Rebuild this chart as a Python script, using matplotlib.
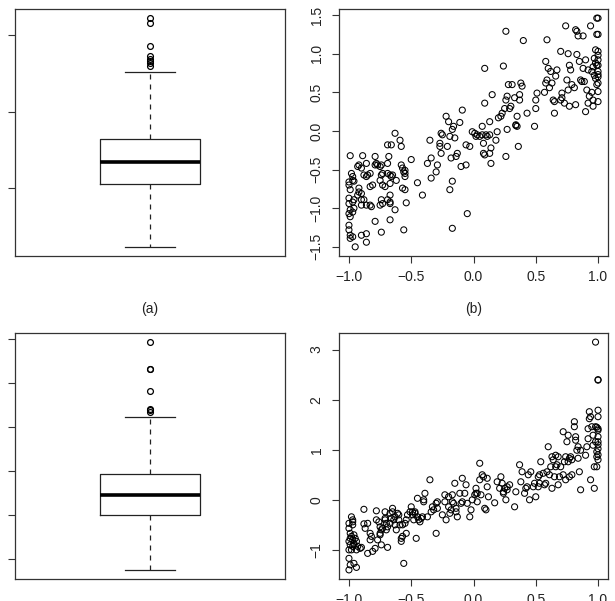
import matplotlib
matplotlib.use("Agg")
import matplotlib.pyplot as plt

plt.rcParams['font.family'] = ['Liberation Sans', 'DejaVu Sans']

# ---- Boxplot (a) summary stats ----
box_a_whislo = 0.229
box_a_q1 = 1.052
box_a_med = 1.340
box_a_q3 = 1.641
box_a_whishi = 2.516
box_a_fliers = [2.595, 2.634, 2.660, 2.686, 2.725, 2.856, 3.157, 3.222]
box_a_ticks = [1, 2, 3]

# ---- Boxplot (c) summary stats ----
box_c_whislo = 0.75
box_c_q1 = 2.0
box_c_med = 2.455
box_c_q3 = 2.932
box_c_whishi = 4.227
box_c_fliers = [4.341, 4.386, 4.42, 4.818, 5.318, 5.318, 5.932]
box_c_ticks = [1, 2, 3, 4, 5, 6]

# ---- Scatter (b): (x, y) pairs ----
b_points = [
    (-0.99, -0.32), (-1.0, -0.66), (-1.0, -0.70), (-0.99, -0.76), (-1.0, -0.87), (-1.0, -0.94),
    (-0.99, -1.02), (-1.0, -1.07), (-0.99, -1.11), (-1.0, -1.22), (-1.0, -1.28), (-0.99, -1.35),
    (-0.99, -1.39), (-0.97, -1.37),
    (-0.98, -0.55), (-0.97, -0.59), (-0.97, -0.64), (-0.96, -0.65), (-0.97, -0.92), (-0.96, -0.89),
    (-0.96, -1.0), (-0.97, -1.05), (-0.95, -1.50),
    (-0.93, -0.46), (-0.92, -0.44), (-0.90, -0.48), (-0.92, -0.74), (-0.92, -0.79), (-0.90, -0.81),
    (-0.93, -0.83), (-0.90, -0.89), (-0.90, -0.96),
    (-0.89, -0.32), (-0.88, -0.57), (-0.86, -0.59), (-0.85, -0.57), (-0.86, -0.42), (-0.83, -0.55),
    (-0.88, -0.89), (-0.86, -0.96), (-0.90, -1.35), (-0.86, -1.33), (-0.86, -1.44),
    (-0.83, -0.96), (-0.83, -0.72), (-0.81, -0.70), (-0.82, -0.98), (-0.79, -0.33), (-0.79, -0.44),
    (-0.78, -0.42), (-0.77, -0.44), (-0.75, -0.46), (-0.74, -0.44), (-0.79, -1.17), (-0.74, -1.31),
    (-0.75, -0.64), (-0.74, -0.57), (-0.73, -0.70), (-0.73, -0.55), (-0.74, -0.89), (-0.75, -0.96),
    (-0.73, -0.94), (-0.71, -0.72),
    (-0.69, -0.42), (-0.69, -0.55), (-0.69, -0.18), (-0.68, -0.33), (-0.67, -0.57), (-0.67, -0.68),
    (-0.69, -0.89), (-0.67, -0.92), (-0.66, -0.18), (-0.67, -0.83), (-0.67, -0.94), (-0.67, -1.15),
    (-0.65, -0.57), (-0.66, -0.59), (-0.63, -1.02), (-0.63, -0.03), (-0.62, -0.64), (-0.59, -0.12),
    (-0.58, -0.20), (-0.58, -0.44), (-0.57, -0.48), (-0.56, -0.53), (-0.55, -0.55), (-0.57, -0.74),
    (-0.55, -0.76), (-0.54, -0.93), (-0.55, -0.51), (-0.56, -1.28), (-0.55, -0.59),
    (-0.50, -0.37), (-0.45, -0.67), (-0.41, -0.83), (-0.37, -0.42), (-0.35, -0.12), (-0.34, -0.35),
    (-0.34, -0.61), (-0.30, -0.53), (-0.29, -0.44), (-0.27, -0.16), (-0.27, -0.20), (-0.26, -0.03),
    (-0.26, -0.29), (-0.25, -0.05),
    (-0.22, 0.19), (-0.21, -0.20), (-0.20, 0.12), (-0.19, -0.07), (-0.19, -0.76), (-0.18, -0.35),
    (-0.17, -0.65), (-0.17, 0.02), (-0.16, 0.06), (-0.17, -1.26), (-0.15, -0.09), (-0.14, -0.33),
    (-0.13, -0.29), (-0.11, 0.11), (-0.10, -0.46), (-0.09, 0.27),
    (-0.06, -0.18), (-0.06, -0.44), (-0.05, -1.07), (-0.03, -0.20), (-0.01, -0.01), (0.01, -0.03),
    (0.02, -0.07), (0.03, -0.05), (0.05, -0.07), (0.07, 0.06), (0.07, -0.05), (0.08, -0.16),
    (0.08, -0.29), (0.09, -0.31), (0.09, 0.36), (0.09, 0.81),
    (0.10, -0.05), (0.11, -0.07), (0.13, -0.05), (0.13, -0.29), (0.13, 0.12), (0.14, -0.22),
    (0.14, -0.42), (0.15, 0.47), (0.18, -0.12), (0.19, -0.01), (0.20, 0.17), (0.22, 0.19),
    (0.23, 0.23), (0.24, 0.84), (0.25, 0.29), (0.26, 1.29), (0.26, 0.40), (0.26, -0.33),
    (0.27, 0.02), (0.27, 0.45), (0.28, 0.60), (0.29, 0.29), (0.30, 0.32), (0.31, 0.60),
    (0.33, 0.43), (0.34, 0.08), (0.34, 0.07), (0.35, 0.19), (0.35, 0.06), (0.36, -0.20),
    (0.37, 0.40), (0.37, 0.47), (0.38, 0.62), (0.39, 0.58), (0.40, 1.17), (0.43, 0.23),
    (0.49, 0.06), (0.50, 0.29), (0.50, 0.40), (0.51, 0.49), (0.57, 0.50), (0.58, 0.62),
    (0.58, 0.90), (0.59, 1.18), (0.59, 0.66), (0.60, 0.81), (0.61, 0.56), (0.62, 0.77),
    (0.63, 0.62), (0.64, 0.40), (0.65, 0.23), (0.65, 0.38), (0.66, 0.71), (0.67, 0.79),
    (0.70, 1.03), (0.70, 0.40), (0.71, 0.43), (0.71, 0.49), (0.73, 0.36), (0.74, 1.36),
    (0.75, 0.66), (0.76, 1.00), (0.76, 0.53), (0.77, 0.32), (0.77, 0.85), (0.78, 0.79),
    (0.79, 0.60), (0.81, 0.56), (0.82, 0.34), (0.82, 1.31), (0.83, 0.99), (0.83, 1.29),
    (0.84, 1.23), (0.85, 0.90),
    (0.86, 0.66), (0.87, 0.64), (0.88, 0.81), (0.88, 1.23), (0.89, 0.64), (0.90, 0.92),
    (0.90, 0.25), (0.91, 0.53), (0.92, 0.79), (0.92, 0.36), (0.93, 0.45), (0.94, 1.36),
    (0.95, 0.77), (0.96, 0.40), (0.96, 0.32), (0.97, 0.94), (0.98, 1.05), (0.98, 0.68),
    (0.99, 0.85), (0.99, 1.46), (1.0, 1.46),
    (1.0, 1.25), (0.99, 1.25), (1.0, 1.03), (1.0, 0.62), (1.0, 0.51), (1.0, 0.38), (1.0, 0.77),
    (1.0, 0.92), (1.0, 0.73), (1.0, 0.85), (1.0, 0.98), (1.0, 0.70), (0.99, 0.60), (0.97, 0.72),
    (0.96, 0.83), (0.95, 0.50), (0.98, 0.88),
]

# ---- Scatter (d): (x, y) pairs ----
d_points = [
    (-1.0, -1.0), (-1.0, -0.47), (-1.0, -0.57), (-0.99, -0.67), (-0.99, -0.77), (-1.0, -0.83),
    (-0.99, -0.90), (-0.98, -0.34), (-0.97, -0.40), (-0.97, -0.50), (-0.98, -0.73), (-0.97, -0.80),
    (-0.96, -0.87), (-0.97, -0.93), (-0.96, -0.70), (-0.95, -0.77), (-0.94, -0.83), (-0.96, -0.90),
    (-0.97, -0.44), (-1.0, -1.17), (-0.99, -1.30), (-1.0, -1.40), (-0.96, -1.27), (-0.94, -1.35),
    (-0.98, -1.0), (-0.94, -1.0), (-0.93, -0.93), (-0.91, -0.97), (-0.90, -0.95),
    (-0.88, -0.19), (-0.88, -0.48), (-0.87, -0.57), (-0.85, -0.47), (-0.85, -1.07), (-0.83, -0.67),
    (-0.83, -0.80), (-0.82, -0.73), (-0.81, -1.03), (-0.79, -0.97), (-0.78, -0.22), (-0.78, -0.40),
    (-0.77, -0.80), (-0.76, -0.44), (-0.75, -0.54), (-0.75, -0.67), (-0.75, -0.70), (-0.74, -0.60),
    (-0.74, -0.90), (-0.73, -0.57),
    (-0.71, -0.40), (-0.71, -0.24), (-0.71, -0.37), (-0.70, -0.47), (-0.70, -0.60), (-0.69, -0.54),
    (-0.69, -0.95), (-0.67, -0.27), (-0.67, -0.47), (-0.66, -0.37), (-0.65, -0.17), (-0.65, -0.24),
    (-0.64, -0.40), (-0.63, -0.50), (-0.63, -0.34), (-0.62, -0.60), (-0.61, -0.27), (-0.60, -0.40),
    (-0.60, -0.30), (-0.59, -0.50), (-0.58, -0.77), (-0.58, -0.83), (-0.57, -0.73), (-0.57, -0.50),
    (-0.56, -1.27), (-0.55, -0.47), (-0.54, -0.40), (-0.54, -0.67), (-0.53, -0.30),
    (-0.51, -0.24), (-0.50, -0.14), (-0.49, -0.24), (-0.49, -0.30), (-0.48, -0.40), (-0.47, -0.24),
    (-0.47, -0.27), (-0.46, -0.77), (-0.45, -0.34), (-0.45, 0.03), (-0.44, -0.40), (-0.43, -0.44),
    (-0.42, -0.37), (-0.41, -0.34), (-0.40, -0.04), (-0.40, 0.0), (-0.39, 0.13), (-0.37, -0.34),
    (-0.35, 0.40), (-0.34, -0.24), (-0.33, -0.14), (-0.32, -0.20), (-0.30, -0.07), (-0.30, -0.67),
    (-0.29, -0.04), (-0.29, -0.17),
    (-0.25, -0.30), (-0.23, 0.10), (-0.23, -0.04), (-0.22, -0.40), (-0.20, 0.06), (-0.20, -0.14),
    (-0.19, -0.27), (-0.18, -0.20), (-0.17, -0.04), (-0.17, 0.10), (-0.16, -0.07), (-0.15, 0.33),
    (-0.14, -0.24), (-0.14, -0.17), (-0.13, -0.34), (-0.11, 0.13), (-0.10, -0.07), (-0.09, 0.43),
    (-0.09, -0.04), (-0.07, 0.13), (-0.06, 0.30), (-0.05, -0.07), (-0.03, -0.34), (-0.02, -0.20),
    (-0.01, 0.0),
    (0.01, 0.10), (0.02, 0.13), (0.02, 0.23), (0.03, -0.04), (0.03, 0.13), (0.05, 0.73),
    (0.05, 0.40), (0.06, 0.10), (0.07, 0.50), (0.08, 0.46), (0.09, -0.17), (0.10, -0.20),
    (0.11, 0.26), (0.11, 0.43), (0.12, 0.06), (0.17, -0.06), (0.19, 0.36), (0.21, 0.23),
    (0.22, 0.46), (0.23, 0.33), (0.24, 0.16), (0.24, 0.13), (0.25, 0.23), (0.26, 0.0),
    (0.27, 0.26), (0.27, 0.20), (0.29, 0.30), (0.33, -0.14), (0.34, 0.16),
    (0.37, 0.70), (0.38, 0.36), (0.39, 0.56), (0.41, 0.13), (0.42, 0.23), (0.43, 0.26),
    (0.44, 0.50), (0.45, 0.0), (0.46, 0.56), (0.48, 0.26), (0.49, 0.33), (0.50, 0.06),
    (0.52, 0.46), (0.52, 0.26), (0.53, 0.50), (0.53, 0.33), (0.54, 0.76), (0.56, 0.53),
    (0.57, 0.30), (0.58, 0.33), (0.59, 0.56), (0.60, 1.06), (0.61, 0.50), (0.62, 0.66),
    (0.63, 0.23), (0.63, 0.86), (0.64, 0.80), (0.65, 0.46), (0.66, 0.66), (0.66, 0.89),
    (0.67, 0.70), (0.68, 0.30), (0.68, 0.86), (0.69, 0.46), (0.70, 0.66), (0.72, 0.50),
    (0.72, 1.36), (0.73, 0.76), (0.74, 0.86), (0.74, 0.40), (0.75, 1.16), (0.76, 1.29),
    (0.76, 0.76), (0.77, 0.83), (0.77, 0.46), (0.78, 0.86), (0.79, 0.50), (0.79, 0.80),
    (0.81, 1.56), (0.81, 1.46), (0.82, 1.26), (0.82, 1.19), (0.83, 0.99), (0.84, 1.06),
    (0.84, 0.83), (0.85, 0.56), (0.86, 0.20), (0.86, 0.99), (0.90, 0.89), (0.91, 1.06),
    (0.92, 1.22), (0.92, 1.42), (0.93, 1.62), (0.93, 1.76), (0.94, 0.40), (0.94, 1.66),
    (0.95, 1.46), (0.96, 1.29), (0.96, 1.09), (0.97, 0.23), (0.97, 0.66), (0.98, 3.15),
    (0.98, 1.46), (0.99, 0.86), (0.99, 0.96), (1.0, 2.40), (1.0, 2.39), (1.0, 1.79),
    (1.0, 1.66), (1.0, 1.42), (1.0, 1.26), (1.0, 1.16), (1.0, 1.02), (1.0, 0.80),
    (0.99, 0.66), (1.0, 1.39), (0.98, 1.16), (0.99, 1.45), (1.0, 1.10), (1.0, 0.90),
]

x_ticks = [-1.0, -0.5, 0.0, 0.5, 1.0]
b_yticks = [-1.5, -1.0, -0.5, 0.0, 0.5, 1.0, 1.5]
d_yticks = [-1, 0, 1, 2, 3]
captions = ["(a)", "(b)"]

W, H = 615, 601
fig = plt.figure(figsize=(W / 100, H / 100), dpi=100)


def px_axes(l, t, r, b):
    return fig.add_axes([l / W, 1 - b / H, (r - l) / W, (b - t) / H])


def style_axes(ax):
    for s in ax.spines.values():
        s.set_linewidth(0.9)
        s.set_color('#333333')
    ax.tick_params(direction='out', length=5, width=0.8, color='#333333',
                   labelsize=10, labelcolor='#222222')


def r_lim(vals):
    lo, hi = min(vals), max(vals)
    pad = 0.04 * (hi - lo)
    return lo - pad, hi + pad


def draw_box(ax, whislo, q1, med, q3, whishi, fliers, ticks):
    stats = [dict(whislo=whislo, q1=q1, med=med, q3=q3, whishi=whishi, fliers=fliers)]
    ax.bxp(stats, positions=[1], widths=0.4, capwidths=0.2, showfliers=True,
           boxprops=dict(color='#222222', linewidth=0.9),
           medianprops=dict(color='black', linewidth=2.6, solid_capstyle='butt'),
           whiskerprops=dict(color='#222222', linewidth=0.9, linestyle=(0, (4, 4))),
           capprops=dict(color='#222222', linewidth=0.9),
           flierprops=dict(marker='o', markersize=4.2, markerfacecolor='none',
                           markeredgecolor='black', markeredgewidth=0.9))
    ax.set_xlim(0.46, 1.54)
    ax.set_ylim(*r_lim([whislo, whishi] + list(fliers)))
    ax.set_xticks([])
    ax.set_yticks(ticks)
    ax.set_yticklabels([])
    style_axes(ax)


def draw_scatter(ax, points, yticks, yfmt):
    x = [p[0] for p in points]
    y = [p[1] for p in points]
    ax.scatter(x, y, s=19, facecolors='none', edgecolors='black', linewidths=0.75)
    ax.set_xlim(*r_lim(x))
    ax.set_ylim(*r_lim(y))
    ax.set_xticks(x_ticks)
    ax.set_xticklabels([f"{v:.1f}".replace('-', '\u2212') for v in x_ticks])
    ax.set_yticks(yticks)
    ax.set_yticklabels([yfmt(v).replace('-', '\u2212') for v in yticks],
                       rotation=90, va='center')
    style_axes(ax)
    ax.tick_params(axis='x', pad=5)
    ax.tick_params(axis='y', pad=6)


ax_a = px_axes(15, 9, 285, 256)
draw_box(ax_a, box_a_whislo, box_a_q1, box_a_med, box_a_q3, box_a_whishi, box_a_fliers, box_a_ticks)

ax_b = px_axes(339, 9, 608, 256)
draw_scatter(ax_b, b_points, b_yticks, lambda v: f"{v:.1f}")

ax_c = px_axes(15, 333, 285, 579)
draw_box(ax_c, box_c_whislo, box_c_q1, box_c_med, box_c_q3, box_c_whishi, box_c_fliers, box_c_ticks)

ax_d = px_axes(339, 333, 608, 579)
draw_scatter(ax_d, d_points, d_yticks, lambda v: f"{v:d}")

fig.text(150 / W, 1 - 309 / H, captions[0], ha='center', va='center', fontsize=10, color='#222222')
fig.text(474 / W, 1 - 309 / H, captions[1], ha='center', va='center', fontsize=10, color='#222222')

fig.savefig("out.png", dpi=100)
